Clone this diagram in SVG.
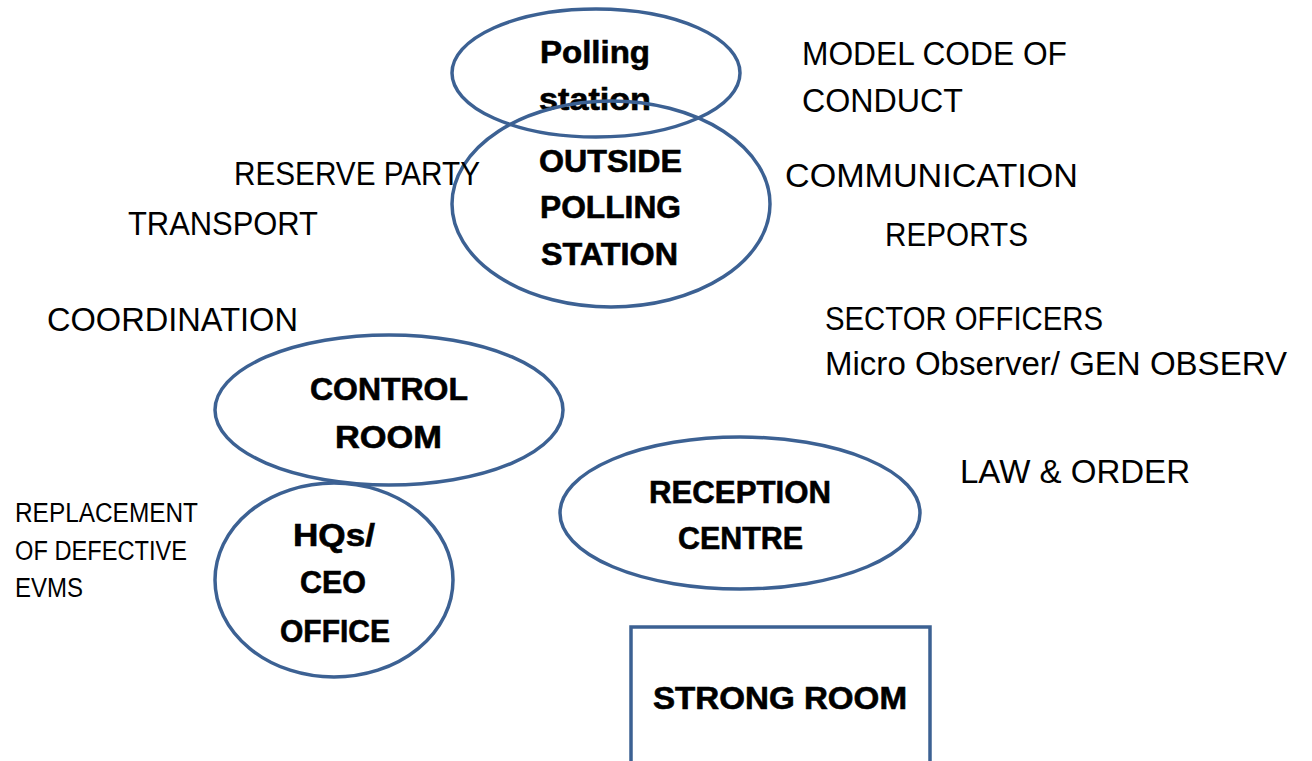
<svg xmlns="http://www.w3.org/2000/svg" width="1312" height="761" viewBox="0 0 1312 761">
<style>
.shape{fill:none;stroke:#3C6193;stroke-width:3.5}
.b{font-family:"Liberation Sans",Arial,sans-serif;font-weight:bold;font-size:31px;fill:#000;stroke:#000;stroke-width:0.6;text-anchor:middle}
.r{font-family:"Liberation Sans",Arial,sans-serif;font-size:34px;fill:#000}
.s{font-family:"Liberation Sans",Arial,sans-serif;font-size:27px;fill:#000}
</style>
<rect width="1312" height="761" fill="#fff"/>
<g id="connectors"></g>
<g id="polling-station">
<ellipse class="shape" cx="596" cy="73" rx="144" ry="64"/>
<text class="b" x="595" y="63" textLength="110" lengthAdjust="spacingAndGlyphs">Polling</text>
<text class="b" x="595" y="110" textLength="112" lengthAdjust="spacingAndGlyphs">station</text>
</g>
<g id="outside-polling-station">
<ellipse class="shape" cx="611" cy="204" rx="159" ry="103"/>
<text class="b" x="610.5" y="172" textLength="143" lengthAdjust="spacingAndGlyphs">OUTSIDE</text>
<text class="b" x="610.5" y="218" textLength="141" lengthAdjust="spacingAndGlyphs">POLLING</text>
<text class="b" x="609.5" y="265" textLength="137" lengthAdjust="spacingAndGlyphs">STATION</text>
</g>
<g id="control-room">
<ellipse class="shape" cx="389" cy="410" rx="174" ry="75"/>
<text class="b" x="389" y="400" textLength="158" lengthAdjust="spacingAndGlyphs">CONTROL</text>
<text class="b" x="388.5" y="448" textLength="107" lengthAdjust="spacingAndGlyphs">ROOM</text>
</g>
<g id="hqs-ceo-office">
<ellipse class="shape" cx="334" cy="580" rx="119" ry="97"/>
<text class="b" x="334" y="546" textLength="82" lengthAdjust="spacingAndGlyphs">HQs/</text>
<text class="b" x="333" y="593" textLength="66" lengthAdjust="spacingAndGlyphs">CEO</text>
<text class="b" x="335" y="642" textLength="110" lengthAdjust="spacingAndGlyphs">OFFICE</text>
</g>
<g id="reception-centre">
<ellipse class="shape" cx="740" cy="513" rx="180" ry="76"/>
<text class="b" x="740" y="503" textLength="182" lengthAdjust="spacingAndGlyphs">RECEPTION</text>
<text class="b" x="740.5" y="549" textLength="125" lengthAdjust="spacingAndGlyphs">CENTRE</text>
</g>
<g id="strong-room">
<path class="shape" d="M631 763 V627 H930 V763"/>
<text class="b" x="780" y="709" textLength="254" lengthAdjust="spacingAndGlyphs">STRONG ROOM</text>
</g>
<g id="labels">
<text class="r" x="802" y="65" textLength="265" lengthAdjust="spacingAndGlyphs">MODEL CODE OF</text>
<text class="r" x="802" y="112" textLength="161" lengthAdjust="spacingAndGlyphs">CONDUCT</text>
<text class="r" x="785" y="187" textLength="293" lengthAdjust="spacingAndGlyphs">COMMUNICATION</text>
<text class="r" x="885" y="246" textLength="143" lengthAdjust="spacingAndGlyphs">REPORTS</text>
<text class="r" x="825" y="330" textLength="278" lengthAdjust="spacingAndGlyphs">SECTOR OFFICERS</text>
<text class="r" x="825" y="375" textLength="462" lengthAdjust="spacingAndGlyphs">Micro Observer/ GEN OBSERV</text>
<text class="r" x="960" y="483" textLength="230" lengthAdjust="spacingAndGlyphs">LAW &amp; ORDER</text>
<text class="r" x="234" y="185" textLength="246" lengthAdjust="spacingAndGlyphs">RESERVE PARTY</text>
<text class="r" x="128" y="235" textLength="190" lengthAdjust="spacingAndGlyphs">TRANSPORT</text>
<text class="r" x="47" y="331" textLength="251" lengthAdjust="spacingAndGlyphs">COORDINATION</text>
<text class="s" x="15" y="522" textLength="183" lengthAdjust="spacingAndGlyphs">REPLACEMENT</text>
<text class="s" x="15" y="560" textLength="172" lengthAdjust="spacingAndGlyphs">OF DEFECTIVE</text>
<text class="s" x="15" y="597" textLength="68" lengthAdjust="spacingAndGlyphs">EVMS</text>
</g>
</svg>
